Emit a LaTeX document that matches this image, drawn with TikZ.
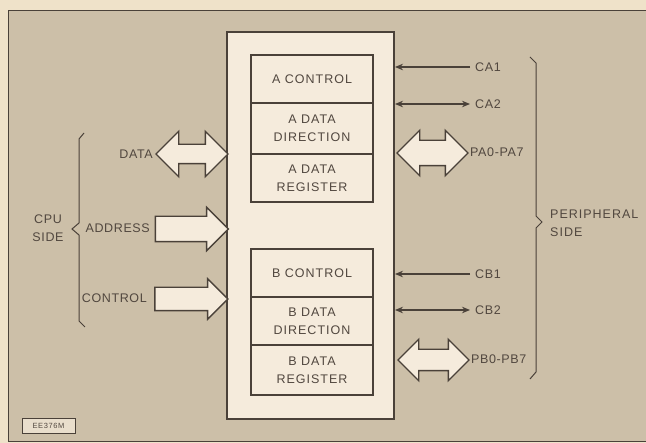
\documentclass[tikz,border=0pt]{standalone}
\usepackage{fontspec}
\setmainfont{Liberation Sans}
\newfontfamily\labfont[LetterSpace=8]{Liberation Sans}
\newfontfamily\sidefont[LetterSpace=5]{Liberation Sans}
\usetikzlibrary{shapes.arrows,arrows.meta}
\definecolor{paper}{HTML}{EFE2C9}
\definecolor{bg}{HTML}{CCBFA8}
\definecolor{cream}{HTML}{F5EBDC}
\definecolor{ink}{HTML}{4A4139}
\definecolor{txt}{HTML}{51473F}
\begin{document}
\begin{tikzpicture}[x=1pt,y=-1pt,
  lab/.style={font=\labfont\fontsize{12.5}{18}\selectfont, text=txt, inner sep=0pt},
  slab/.style={font=\sidefont\fontsize{12.5}{18}\selectfont, text=txt, inner sep=0pt},
  regbox/.style={draw=ink, fill=cream, line width=2pt, minimum width=122pt, inner sep=0pt, align=center, font=\labfont\fontsize{12.5}{18}\selectfont, text=txt},
  sarrow/.style={single arrow, draw=ink, fill=cream, line width=1.4pt, inner xsep=0pt, inner ysep=12pt, single arrow head extend=9pt, minimum height=73pt},
  darrow/.style={double arrow, draw=ink, fill=cream, line width=1.4pt, inner xsep=0pt, inner ysep=9pt, double arrow head extend=13pt, minimum height=72pt},
  sig/.style={draw=ink, line width=2pt, shorten <=5pt, >={Stealth[length=8pt,width=6.5pt]}},
  brace/.style={draw=ink, line width=1pt}
]
\useasboundingbox (0,0) rectangle (646,443);
\fill[paper] (0,0) rectangle (646,443);
\fill[bg] (8,10) rectangle (646,441);
\draw[ink, line width=0.8pt] (646,10) -- (8,10) -- (8,441) -- (646,441);

% chip
\node[draw=ink, fill=cream, line width=2pt, minimum width=167pt, minimum height=387pt, inner sep=0pt] (chip) at (310.5,225.5) {};

% A registers
\node[regbox, minimum height=48pt] (actl) at (312,79) {A CONTROL};
\node[regbox, minimum height=51pt] (addr) at (312,128.5) {A DATA\\DIRECTION};
\node[regbox, minimum height=48pt] (adat) at (312,178) {A DATA\\REGISTER};
% B registers
\node[regbox, minimum height=48pt] (bctl) at (312,273) {B CONTROL};
\node[regbox, minimum height=48pt] (bddr) at (312,321) {B DATA\\DIRECTION};
\node[regbox, minimum height=50pt] (bdat) at (312,370) {B DATA\\REGISTER};

% CPU side
\node[darrow] (dataarr) at (192,154) {};
\node[sarrow] (addrarr) at (185.5,229) {};
\node[sarrow, inner ysep=11pt, single arrow head extend=8.5pt] (ctlarr) at (185.5,299) {};
\node[slab, anchor=east] (data) at (153,154) {DATA};
\node[slab, anchor=east] (address) at (150,228) {ADDRESS};
\node[slab, anchor=east] (control) at (147,298) {CONTROL};
\draw[brace] (84,133) -- (79,139) -- (79,223) -- (72,229) -- (79,235) -- (79,321) -- (85,327);
\node[slab, align=center] (cpu) at (48,228) {CPU\\SIDE};

% peripheral side
\node[slab, anchor=west] (ca1) at (475,67) {CA1};
\node[slab, anchor=west] (ca2) at (475,104) {CA2};
\node[slab, anchor=west] (cb1) at (475,274) {CB1};
\node[slab, anchor=west] (cb2) at (475,310) {CB2};
\draw[sig, ->] (ca1.west) -- (ca1.west -| chip.east);
\draw[sig, <->] (ca2.west) -- (ca2.west -| chip.east);
\draw[sig, ->] (cb1.west) -- (cb1.west -| chip.east);
\draw[sig, <->] (cb2.west) -- (cb2.west -| chip.east);
\node[darrow, minimum height=71pt, inner ysep=12pt, double arrow head extend=10pt] (paarr) at (432.5,153) {};
\node[darrow, minimum height=71pt, inner ysep=10pt, double arrow head extend=10pt] (pbarr) at (433.5,360) {};
\node[slab, anchor=west] (pa) at (470,152) {PA0-PA7};
\node[slab, anchor=west] (pb) at (471,359) {PB0-PB7};
\draw[brace] (530,57) -- (536,63) -- (536,216) -- (542,222) -- (536,228) -- (536,372) -- (530,379);
\node[lab, align=left, anchor=west] (periph) at (550,223) {PERIPHERAL\\SIDE};

% figure tag
\node[draw=ink, fill=cream!70!bg, line width=0.8pt, minimum width=53pt, minimum height=15pt, inner sep=0pt, font=\labfont\fontsize{7.5}{9}\selectfont, text=txt] (tag) at (48.5,426) {EE376M};
\end{tikzpicture}
\end{document}
